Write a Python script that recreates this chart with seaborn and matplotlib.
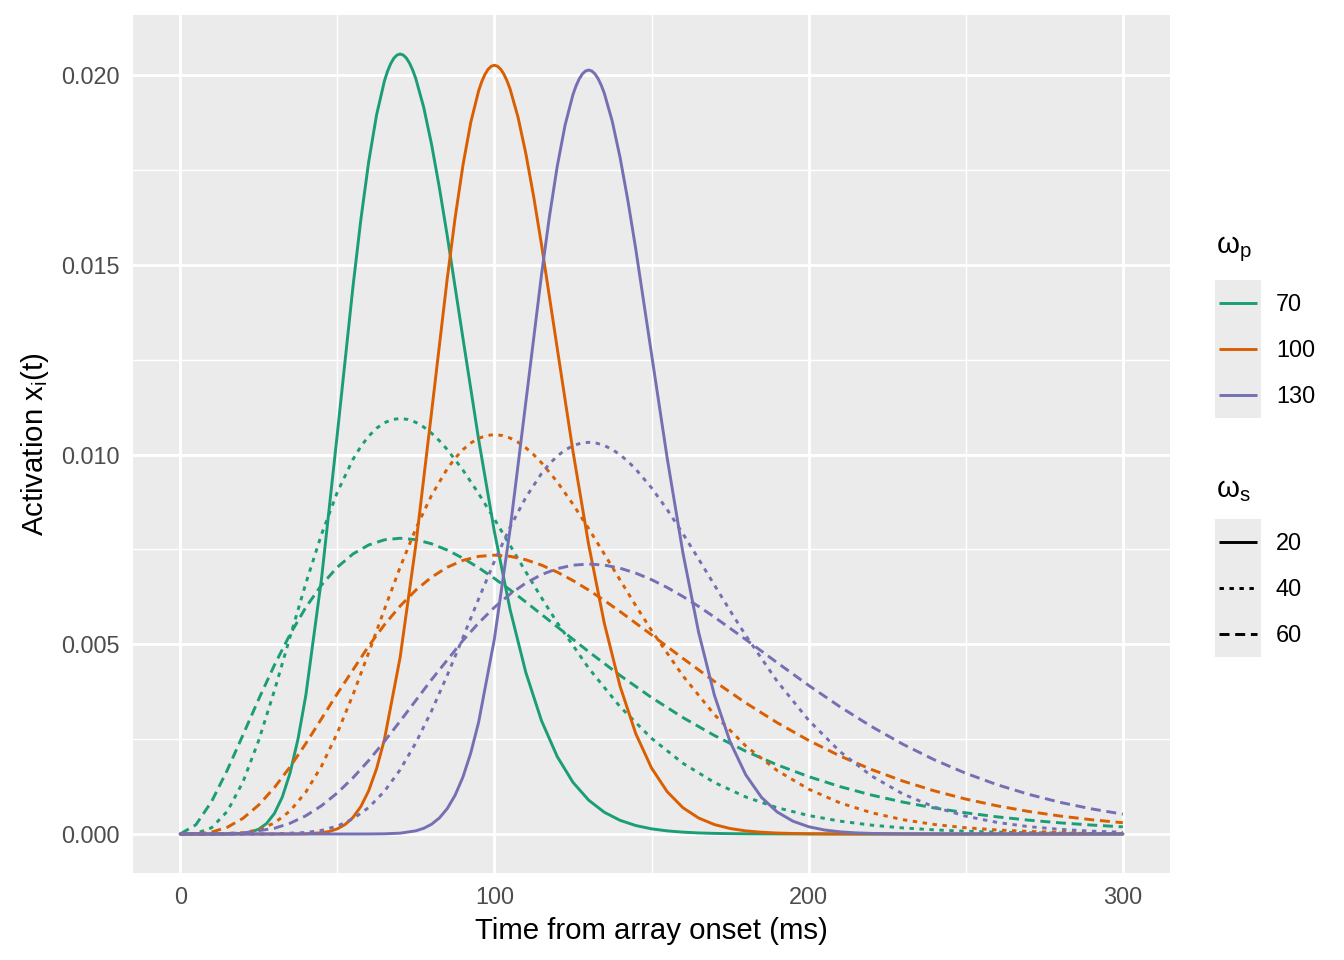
import numpy as np
import pandas as pd
import matplotlib
matplotlib.use("Agg")
import matplotlib.pyplot as plt
import seaborn as sns
from matplotlib.lines import Line2D
from matplotlib.patches import Rectangle

# ---------------- data ----------------
# omega_s = 20 (solid)
t_70_20 = [0, 5, 10, 15, 20, 22.5, 25, 27.5, 30, 32.5, 35, 37.5, 40, 45, 50, 55, 57.5, 60, 62.5,
           65, 66, 67, 68, 69, 70, 71, 72, 73, 74, 75, 77.5, 80, 82.5, 85, 90, 95, 100, 105,
           110, 115, 120, 125, 130, 135, 140, 145, 150, 155, 160, 165, 170, 175, 180, 185, 190,
           195, 200, 205, 210, 215, 220, 225, 230, 235, 240, 245, 250, 255, 260, 265, 270, 275,
           280, 285, 290, 295, 300]
a_70_20 = [0, 0, 0, 0.000001, 0.000017, 0.000050, 0.000126, 0.000276, 0.000542, 0.000972,
           0.001612, 0.002500, 0.003656, 0.006735, 0.010532, 0.014428, 0.016189, 0.017717,
           0.018950, 0.019847, 0.020105, 0.020305, 0.020448, 0.020532, 0.020560, 0.020533,
           0.020452, 0.020319, 0.020138, 0.019910, 0.019158, 0.018182, 0.017036, 0.015769,
           0.013066, 0.010394, 0.007971, 0.005915, 0.004260, 0.002985, 0.002041, 0.001363,
           0.000892, 0.000572, 0.000360, 0.000223, 0.000136, 0.000082, 0.000049, 0.000028,
           0.000016, 0.000009, 0.000005, 0.000003, 0.000002, 0.000001, 0.000001,
           0, 0, 0, 0, 0, 0, 0, 0, 0, 0, 0, 0, 0, 0, 0, 0, 0, 0, 0, 0]
t_100_20 = [0, 5, 10, 15, 20, 25, 30, 35, 40, 45, 47.5, 50, 52.5, 55, 57.5, 60, 62.5, 65, 70,
            75, 80, 85, 87.5, 90, 92.5, 95, 96, 97, 98, 99, 100, 101, 102, 103, 104, 105, 107.5,
            110, 112.5, 115, 120, 125, 130, 135, 140, 145, 150, 155, 160, 165, 170, 175, 180,
            185, 190, 195, 200, 205, 210, 215, 220, 225, 230, 235, 240, 245, 250, 255, 260, 265,
            270, 275, 280, 285, 290, 295, 300]
a_100_20 = [0, 0, 0, 0, 0, 0, 0, 0.000001, 0.000006, 0.000032, 0.000068, 0.000135, 0.000250,
            0.000436, 0.000723, 0.001140, 0.001720, 0.002488, 0.004652, 0.007618, 0.011111,
            0.014640, 0.016237, 0.017630, 0.018763, 0.019594, 0.019835, 0.020023, 0.020157,
            0.020237, 0.020263, 0.020237, 0.020159, 0.020032, 0.019857, 0.019636, 0.018901,
            0.017940, 0.016801, 0.015533, 0.012805, 0.010090, 0.007627, 0.005548, 0.003894,
            0.002644, 0.001741, 0.001114, 0.000693, 0.000421, 0.000249, 0.000145, 0.000082,
            0.000046, 0.000025, 0.000013, 0.000007, 0.000004, 0.000002, 0.000001,
            0, 0, 0, 0, 0, 0, 0, 0, 0, 0, 0, 0, 0, 0, 0, 0, 0]
t_130_20 = [0, 5, 10, 15, 20, 25, 30, 35, 40, 45, 50, 55, 60, 65, 70, 75, 77.5, 80, 82.5, 85,
            87.5, 90, 92.5, 95, 100, 105, 110, 115, 117.5, 120, 122.5, 125, 126, 127, 128, 129,
            130, 131, 132, 133, 134, 135, 137.5, 140, 142.5, 145, 150, 155, 160, 165, 170, 175,
            180, 185, 190, 195, 200, 205, 210, 215, 220, 225, 230, 235, 240, 245, 250, 255, 260,
            265, 270, 275, 280, 285, 290, 295, 300]
a_130_20 = [0, 0, 0, 0, 0, 0, 0, 0, 0, 0, 0, 0, 0.000001, 0.000005, 0.000022, 0.000083,
            0.000150, 0.000257, 0.000423, 0.000670, 0.001021, 0.001503, 0.002140, 0.002951,
            0.005139, 0.008031, 0.011378, 0.014741, 0.016264, 0.017598, 0.018686, 0.019489,
            0.019722, 0.019904, 0.020034, 0.020112, 0.020138, 0.020112, 0.020036, 0.019911,
            0.019738, 0.019520, 0.018790, 0.017831, 0.016689, 0.015414, 0.012656, 0.009904,
            0.007410, 0.005314, 0.003663, 0.002432, 0.001559, 0.000966, 0.000580, 0.000338,
            0.000192, 0.000106, 0.000057, 0.000030, 0.000015, 0.000008, 0.000004, 0.000002,
            0.000001, 0, 0, 0, 0, 0, 0, 0, 0, 0, 0, 0, 0]

# omega_s = 40 (dotted)
t_70_40 = [0, 5, 10, 15, 20, 25, 30, 35, 40, 45, 50, 55, 57.5, 60, 62.5, 65, 67.5, 70, 72.5, 75,
           77.5, 80, 82.5, 85, 90, 95, 100, 105, 110, 115, 120, 130, 140, 150, 160, 170, 180,
           190, 200, 210, 220, 230, 240, 250, 260, 270, 280, 290, 300]
a_70_40 = [0, 0.000015, 0.000164, 0.000596, 0.001373, 0.002465, 0.003780, 0.005200, 0.006608,
           0.007901, 0.009006, 0.009875, 0.010213, 0.010486, 0.010695, 0.010840, 0.010925,
           0.010953, 0.010927, 0.010851, 0.010729, 0.010566, 0.010367, 0.010135, 0.009592,
           0.008971, 0.008301, 0.007607, 0.006910, 0.006227, 0.005571, 0.004372, 0.003354,
           0.002523, 0.001865, 0.001358, 0.000976, 0.000693, 0.000487, 0.000339, 0.000234,
           0.000160, 0.000109, 0.000073, 0.000049, 0.000033, 0.000022, 0.000014, 0.000009]
t_100_40 = [0, 10, 20, 25, 30, 35, 40, 45, 50, 55, 60, 65, 70, 75, 80, 85, 87.5, 90, 92.5, 95,
            97.5, 100, 102.5, 105, 107.5, 110, 112.5, 115, 120, 125, 130, 135, 140, 145, 150,
            160, 170, 180, 190, 200, 210, 220, 230, 240, 250, 260, 270, 280, 290, 300]
a_100_40 = [0, 0.0000005, 0.000033, 0.000113, 0.000290, 0.000609, 0.001105, 0.001791,
            0.002658, 0.003670, 0.004778, 0.005919, 0.007029, 0.008048, 0.008926, 0.009628,
            0.009906, 0.010132, 0.010307, 0.010430, 0.010503, 0.010527, 0.010504, 0.010437,
            0.010328, 0.010181, 0.009999, 0.009786, 0.009281, 0.008693, 0.008050, 0.007377,
            0.006694, 0.006019, 0.005367, 0.004168, 0.003148, 0.002320, 0.001672, 0.001182,
            0.000820, 0.000561, 0.000377, 0.000251, 0.000164, 0.000107, 0.000068, 0.000043,
            0.000027, 0.000017]
t_130_40 = [0, 10, 20, 30, 40, 45, 50, 55, 60, 65, 70, 75, 80, 85, 90, 95, 100, 105, 110, 115,
            117.5, 120, 122.5, 125, 127.5, 130, 132.5, 135, 137.5, 140, 142.5, 145, 150, 155,
            160, 165, 170, 175, 180, 190, 200, 210, 220, 230, 240, 250, 260, 270, 280, 290, 300]
a_130_40 = [0, 0, 0.0000001, 0.000003, 0.000039, 0.000096, 0.000208, 0.000399, 0.000697,
            0.001124, 0.001692, 0.002403, 0.003242, 0.004181, 0.005182, 0.006199, 0.007183,
            0.008087, 0.008871, 0.009503, 0.009754, 0.009961, 0.010121, 0.010235, 0.010302,
            0.010324, 0.010302, 0.010239, 0.010136, 0.009996, 0.009821, 0.009616, 0.009126,
            0.008550, 0.007916, 0.007247, 0.006565, 0.005888, 0.005232, 0.004025, 0.002999,
            0.002171, 0.001531, 0.001055, 0.000711, 0.000470, 0.000305, 0.000194, 0.000122,
            0.000075, 0.000046]

# omega_s = 60 (dashed)
t_70_60 = [0, 5, 10, 15, 20, 25, 30, 35, 40, 45, 50, 55, 60, 65, 70, 75, 80, 85, 90, 95, 100,
           105, 110, 120, 130, 140, 150, 160, 170, 180, 190, 200, 210, 220, 230, 240, 250, 260,
           270, 280, 290, 300]
a_70_60 = [0, 0.000242, 0.000854, 0.001683, 0.002611, 0.003554, 0.004452, 0.005266, 0.005974,
           0.006564, 0.007032, 0.007382, 0.007619, 0.007754, 0.007796, 0.007758, 0.007650,
           0.007484, 0.007270, 0.007018, 0.006737, 0.006434, 0.006116, 0.005461, 0.004806,
           0.004180, 0.003598, 0.003069, 0.002597, 0.002182, 0.001822, 0.001513, 0.001249,
           0.001027, 0.000841, 0.000686, 0.000558, 0.000452, 0.000365, 0.000294, 0.000236,
           0.000189]
t_100_60 = [0, 5, 10, 15, 20, 25, 30, 35, 40, 50, 60, 65, 70, 75, 80, 85, 90, 95, 100, 105, 110,
            115, 120, 125, 130, 135, 140, 150, 160, 170, 180, 190, 200, 210, 220, 230, 240, 250,
            260, 270, 280, 290, 300]
a_100_60 = [0, 0.000005, 0.000050, 0.000177, 0.000413, 0.000764, 0.001223, 0.001772, 0.002385,
            0.003697, 0.004955, 0.005515, 0.006008, 0.006429, 0.006770, 0.007031, 0.007212,
            0.007317, 0.007351, 0.007319, 0.007229, 0.007088, 0.006903, 0.006681, 0.006430,
            0.006155, 0.005864, 0.005251, 0.004629, 0.004024, 0.003455, 0.002934, 0.002467,
            0.002056, 0.001700, 0.001395, 0.001137, 0.000921, 0.000742, 0.000595, 0.000474,
            0.000376, 0.000297]
t_130_60 = [0, 10, 20, 30, 35, 40, 45, 50, 55, 60, 65, 70, 80, 90, 95, 100, 105, 110, 115, 120,
            125, 130, 135, 140, 145, 150, 155, 160, 165, 170, 180, 190, 200, 210, 220, 230, 240,
            250, 260, 270, 280, 290, 300]
a_130_60 = [0, 0.000001, 0.000024, 0.000150, 0.000284, 0.000481, 0.000746, 0.001081, 0.001481,
            0.001938, 0.002440, 0.002973, 0.004068, 0.005102, 0.005563, 0.005973, 0.006325,
            0.006614, 0.006837, 0.006994, 0.007086, 0.007116, 0.007088, 0.007006, 0.006876,
            0.006705, 0.006497, 0.006260, 0.005999, 0.005719, 0.005126, 0.004516, 0.003918,
            0.003353, 0.002833, 0.002366, 0.001956, 0.001601, 0.001299, 0.001046, 0.000835,
            0.000663, 0.000522]

wp_levels = ["70", "100", "130"]
ws_levels = ["20", "40", "60"]
wp_colors = ["#1B9E77", "#D95F02", "#7570B3"]
x_ticks = [0, 100, 200, 300]
y_ticks = [0.000, 0.005, 0.010, 0.015, 0.020]
y_tick_labels = ["0.000", "0.005", "0.010", "0.015", "0.020"]

series = [
    ("70", "20", t_70_20, a_70_20), ("100", "20", t_100_20, a_100_20),
    ("130", "20", t_130_20, a_130_20),
    ("70", "40", t_70_40, a_70_40), ("100", "40", t_100_40, a_100_40),
    ("130", "40", t_130_40, a_130_40),
    ("70", "60", t_70_60, a_70_60), ("100", "60", t_100_60, a_100_60),
    ("130", "60", t_130_60, a_130_60),
]
df = pd.concat([pd.DataFrame({"time": t, "activation": v, "wp": p, "ws": s})
                for p, s, t, v in series], ignore_index=True)

# ---------------- style ----------------
sns.set_theme(style="white")
plt.rcParams["font.family"] = ["Liberation Sans", "DejaVu Sans"]
plt.rcParams["mathtext.fontset"] = "custom"
plt.rcParams["mathtext.rm"] = "Liberation Sans"
plt.rcParams["mathtext.it"] = "Liberation Sans:italic"

W, H = 1344, 960
fig = plt.figure(figsize=(7, 5), dpi=192)
fig.patch.set_facecolor("white")
px = lambda x: x / W
py = lambda y: 1 - y / H

ax = fig.add_axes([px(133), py(873), (1170 - 133) / W, (873 - 15) / H])
ax.set_facecolor("#EBEBEB")

LW = 1.1
palette = dict(zip(wp_levels, wp_colors))
dashes = {"20": "", "40": (1.5, 1.9), "60": (3.4, 1.95)}

sns.lineplot(data=df, x="time", y="activation", hue="wp", style="ws",
             hue_order=wp_levels, style_order=ws_levels, palette=palette,
             dashes=dashes, linewidth=LW, legend=False, ax=ax,
             estimator=None, errorbar=None)
for ln in ax.get_lines():
    ln.set_dash_capstyle("butt")
    ln.set_solid_joinstyle("round")

ax.set_xlim(-15, 315)
ax.set_ylim(-0.001028, 0.021588)
ax.set_xticks(x_ticks)
ax.set_xticklabels([str(v) for v in x_ticks])
ax.set_xticks([50, 150, 250], minor=True)
ax.set_yticks(y_ticks)
ax.set_yticklabels(y_tick_labels)
ax.set_yticks([0.0025, 0.0075, 0.0125, 0.0175], minor=True)
ax.set_axisbelow(True)
ax.grid(which="major", color="white", linewidth=1.07)
ax.grid(which="minor", color="white", linewidth=0.53)
for sp in ax.spines.values():
    sp.set_visible(False)
ax.tick_params(which="major", length=2.74, width=1.07, color="#333333",
               labelsize=8.8, labelcolor="#4D4D4D", pad=2.2)
ax.tick_params(which="minor", length=0)

ax.set_xlabel("Time from array onset (ms)", fontsize=11, color="black", labelpad=3)
ax.set_ylabel("Activation x$_\\mathrm{i}$(t)", fontsize=11, color="black", labelpad=4)

# ---------------- legends (ggplot style) ----------------
def draw_legend(title, title_base, box_top, labels, colors, styles):
    fig.text(px(1216), py(title_base), title, fontsize=11, color="black",
             ha="left", va="baseline")
    fig.add_artist(Rectangle((px(1215), py(box_top + 138)), 46 / W, 138 / H,
                             transform=fig.transFigure, facecolor="#EBEBEB",
                             edgecolor="none"))
    for i, lab in enumerate(labels):
        yc = box_top + 23 + 46 * i
        l = Line2D([px(1219), px(1257)], [py(yc), py(yc)], transform=fig.transFigure,
                   color=colors[i], linewidth=LW, solid_capstyle="butt")
        if styles[i]:
            l.set_dashes(styles[i])
            l.set_dash_capstyle("butt")
        fig.add_artist(l)
        fig.text(px(1276), py(yc + 8.4), lab, fontsize=8.8, color="black",
                 ha="left", va="baseline")

draw_legend("ω$_\\mathrm{p}$", 253, 280, wp_levels, wp_colors, ["", "", ""])
draw_legend("ω$_\\mathrm{s}$", 497, 519, ws_levels, ["black"] * 3,
            [dashes[s] for s in ws_levels])

fig.savefig("out.png", dpi=192)
